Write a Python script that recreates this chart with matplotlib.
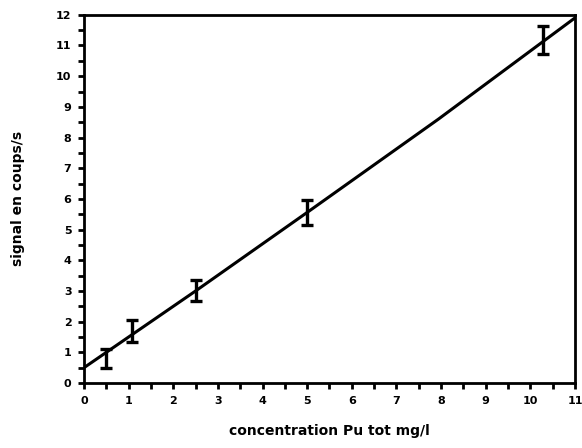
import numpy as np
import matplotlib
matplotlib.use("Agg")
import matplotlib.pyplot as plt
import matplotlib.ticker as mt

# measured points (concentration, signal, half error bar)
conc = [0.5, 1.07, 2.5, 5.0, 10.29]
signal = [0.8, 1.69, 3.02, 5.55, 11.18]
err = [0.3, 0.36, 0.35, 0.4, 0.45]

# fitted line, points
line_x = [0.0, 2.5, 5.0, 7.94, 11.0]
line_y = [0.5, 3.0, 5.56, 8.6, 11.9]


def main():
    fig = plt.figure(figsize=(5.82, 4.48), dpi=100)
    ax = fig.add_axes([0.1443, 0.145, 0.8437, 0.822])

    ax.plot(line_x, line_y, color='black', linewidth=2.2)
    ax.errorbar(conc, signal, yerr=err, fmt='none', ecolor='black',
                elinewidth=2.4, capsize=4, capthick=2.4)

    ax.set_xlim(0, 11)
    ax.set_ylim(0, 12)
    ax.xaxis.set_major_locator(mt.MultipleLocator(1))
    ax.xaxis.set_minor_locator(mt.MultipleLocator(0.5))
    ax.yaxis.set_major_locator(mt.MultipleLocator(1))
    ax.yaxis.set_minor_locator(mt.MultipleLocator(0.5))
    ax.tick_params(which='both', direction='out', width=2, length=4,
                   top=False, right=False)
    ax.tick_params(labelsize=8, pad=5)
    for lab in ax.get_xticklabels() + ax.get_yticklabels():
        lab.set_fontweight('bold')
    for sp in ax.spines.values():
        sp.set_linewidth(2)

    ax.set_xlabel('concentration Pu tot mg/l', fontsize=10, fontweight='bold',
                  labelpad=13)
    ax.set_ylabel('signal en coups/s', fontsize=10, fontweight='bold',
                  labelpad=22)

    fig.savefig('out.png', dpi=100)


if __name__ == '__main__':
    main()
